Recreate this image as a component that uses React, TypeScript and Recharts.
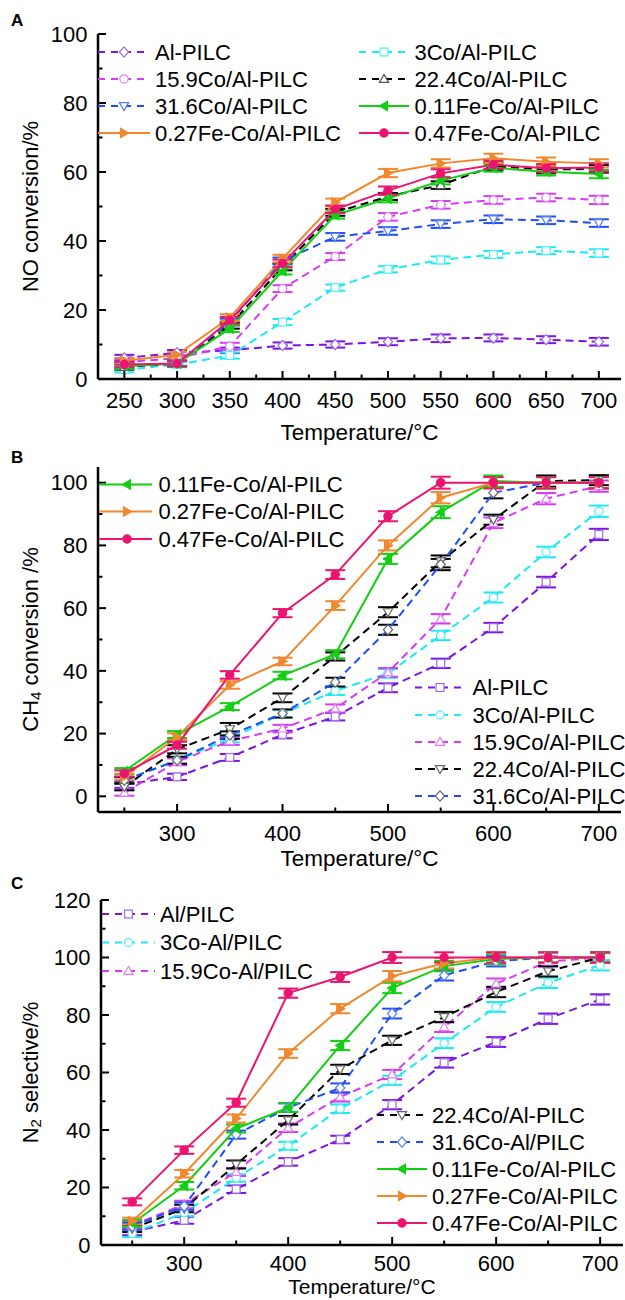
import React from 'react';
import { LineChart, Line, XAxis, YAxis, ErrorBar, Legend } from 'recharts';

const FONT = '"Liberation Sans", Arial, Helvetica, sans-serif';

// ---------- shared categories ----------
const temperatures = [250, 300, 350, 400, 450, 500, 550, 600, 650, 700];

// ---------- Panel A: NO conversion (%) ----------
const aAlPilc = [6.1, 7.6, 8.3, 9.7, 10.0, 10.8, 11.8, 11.9, 11.4, 10.8];
const a3Co = [2.7, 4.2, 6.8, 16.5, 26.5, 31.8, 34.5, 36.1, 37.2, 36.5];
const a159Co = [4.9, 6.0, 9.5, 26.2, 35.5, 47.0, 50.5, 51.9, 52.6, 51.9];
const a224Co = [3.5, 4.5, 15.5, 32.5, 48.3, 52.9, 56.2, 61.7, 60.7, 60.9];
const a316Co = [3.9, 4.5, 16.5, 34.2, 41.2, 42.9, 44.9, 46.3, 46.0, 45.2];
const a011Fe = [3.7, 4.5, 14.6, 31.3, 47.5, 52.3, 57.5, 61.2, 60.1, 59.4];
const a027Fe = [5.3, 7.0, 17.8, 34.9, 51.2, 59.7, 62.5, 64.0, 63.0, 62.5];
const a047Fe = [4.2, 4.5, 17.0, 33.5, 49.2, 54.6, 59.6, 62.1, 61.1, 61.3];
const aErrAlPilc = [0.9, 0.8, 0.8, 0.9, 0.9, 1.0, 1.1, 1.0, 1.0, 1.1];
const aErr3Co = [0.8, 0.8, 0.9, 0.9, 0.9, 0.9, 1.0, 1.0, 1.0, 1.1];
const aErr159Co = [0.8, 0.8, 1.0, 1.0, 1.0, 1.1, 1.1, 1.1, 1.1, 1.2];
const aErr224Co = [0.8, 0.8, 0.9, 1.0, 1.0, 1.0, 1.1, 1.1, 1.1, 1.1];
const aErr316Co = [0.8, 0.8, 1.0, 1.0, 1.1, 1.1, 1.1, 1.1, 1.1, 1.1];
const aErr011Fe = [0.8, 0.9, 1.0, 1.0, 1.0, 1.1, 1.1, 1.1, 1.1, 1.2];
const aErr027Fe = [0.8, 0.8, 1.0, 1.1, 1.1, 1.2, 1.2, 1.3, 1.2, 1.2];
const aErr047Fe = [0.8, 0.8, 1.0, 1.1, 1.1, 1.2, 1.2, 1.2, 1.2, 1.2];
const aXTicks = [250, 275, 300, 325, 350, 375, 400, 425, 450, 475, 500, 525, 550, 575, 600, 625, 650, 675, 700];
const aYTicks = [0, 10, 20, 30, 40, 50, 60, 70, 80, 90, 100];

// ---------- Panel B: CH4 conversion (%) ----------
const bAlPilc = [3.8, 6.2, 12.4, 19.7, 25.4, 34.6, 42.4, 53.8, 68.3, 83.5];
const b3Co = [5.1, 11.5, 18.4, 26.4, 33.6, 39.2, 51.3, 63.4, 77.9, 90.9];
const b159Co = [1.2, 11.0, 17.6, 21.6, 28.0, 39.5, 56.6, 87.2, 94.9, 98.9];
const b224Co = [3.0, 15.0, 21.4, 31.4, 44.6, 58.7, 74.9, 88.2, 100.5, 100.8];
const b316Co = [5.1, 11.5, 19.5, 26.4, 36.4, 53.1, 73.9, 96.8, 100.0, 100.0];
const b011Fe = [8.0, 19.7, 28.6, 38.5, 45.3, 75.7, 90.6, 100.5, 100.0, 100.0];
const b027Fe = [6.2, 19.0, 35.5, 43.0, 60.8, 80.0, 95.2, 100.0, 100.0, 100.0];
const b047Fe = [7.3, 16.3, 38.7, 58.4, 70.7, 89.3, 100.0, 100.0, 100.0, 100.0];
const bErrAlPilc = [1.1, 1.0, 1.1, 1.2, 1.2, 1.4, 1.5, 1.5, 1.7, 1.8];
const bErr3Co = [1.0, 1.1, 1.2, 1.2, 1.3, 1.4, 1.5, 1.6, 1.7, 1.8];
const bErr159Co = [1.0, 1.1, 1.2, 1.2, 1.3, 1.4, 1.5, 1.7, 1.8, 1.8];
const bErr224Co = [1.1, 1.3, 2.0, 1.4, 1.3, 1.6, 1.9, 1.6, 1.8, 1.6];
const bErr316Co = [1.0, 1.1, 1.2, 1.3, 1.4, 1.6, 1.8, 1.8, 1.8, 1.8];
const bErr011Fe = [1.0, 1.1, 1.1, 1.2, 1.3, 1.6, 1.9, 1.8, 1.8, 1.8];
const bErr027Fe = [1.0, 1.1, 1.2, 1.2, 1.4, 1.6, 1.8, 1.8, 1.8, 1.8];
const bErr047Fe = [1.0, 1.1, 1.2, 1.3, 1.4, 1.6, 1.9, 1.8, 1.8, 1.8];
const bXTicks = [250, 300, 350, 400, 450, 500, 550, 600, 650, 700];
const bYTicks = [0, 10, 20, 30, 40, 50, 60, 70, 80, 90, 100];

// ---------- Panel C: N2 selectivity (%) ----------
const cAlPilc = [4.6, 8.6, 19.4, 28.9, 36.7, 48.8, 63.4, 70.6, 78.7, 85.4];
const c3Co = [4.0, 11.2, 23.3, 34.5, 47.4, 57.3, 70.2, 82.8, 91.2, 97.3];
const c159Co = [6.9, 14.1, 25.4, 40.8, 51.5, 59.3, 75.8, 90.9, 98.6, 100.0];
const c224Co = [5.7, 12.7, 28.0, 43.4, 61.1, 71.2, 79.3, 88.0, 95.2, 100.0];
const c316Co = [6.5, 13.5, 38.4, 47.8, 54.6, 80.5, 93.8, 98.7, 100.0, 100.0];
const c011Fe = [7.5, 20.6, 40.5, 47.8, 69.4, 89.4, 97.0, 99.5, 100.0, 100.0];
const c027Fe = [8.3, 24.8, 44.0, 66.6, 82.2, 93.5, 98.0, 100.0, 100.0, 100.0];
const c047Fe = [15.0, 33.0, 49.5, 87.6, 93.2, 100.0, 100.0, 100.0, 100.0, 100.0];
const cErrAlPilc = [1.2, 1.2, 1.3, 1.3, 1.3, 1.6, 1.7, 1.7, 1.8, 1.8];
const cErr3Co = [1.2, 1.2, 1.3, 1.4, 1.5, 1.6, 1.7, 1.7, 1.8, 1.8];
const cErr159Co = [1.2, 1.3, 1.4, 1.5, 1.6, 1.6, 1.7, 1.8, 1.8, 1.8];
const cErr224Co = [1.2, 1.3, 1.4, 1.5, 1.6, 1.6, 1.8, 1.8, 1.8, 1.8];
const cErr316Co = [1.2, 1.3, 1.4, 1.5, 1.6, 1.7, 1.8, 1.8, 1.8, 1.8];
const cErr011Fe = [1.2, 1.3, 1.4, 1.5, 1.6, 1.8, 1.8, 1.8, 1.8, 1.8];
const cErr027Fe = [1.2, 1.3, 1.4, 1.5, 1.6, 1.8, 1.8, 1.8, 1.8, 1.8];
const cErr047Fe = [1.2, 1.3, 1.4, 1.6, 1.7, 1.9, 1.8, 1.8, 1.8, 1.8];
const cXTicks = [250, 300, 350, 400, 450, 500, 550, 600, 650, 700];
const cYTicks = [0, 10, 20, 30, 40, 50, 60, 70, 80, 90, 100, 110, 120];

// ---------- styles ----------
const PURPLE = '#7A16E4';
const CYAN = '#1BEAF0';
const MAGENTA = '#D63CF2';
const BLACK = '#000000';
const BLUE = '#1F4FF4';
const GREEN = '#12CF12';
const ORANGE = '#F0882E';
const PINK = '#EC1470';

type MarkerType = 'diamond' | 'square' | 'circle' | 'triUp' | 'triDown' | 'triLeft' | 'triRight';

interface SeriesDef {
  name: string;
  color: string;
  dashed: boolean;
  marker: MarkerType;
  markerStroke: string;
  errColor: string;
  values: number[];
  errors: number[];
}

const Marker = ({ type, cx, cy, fill, stroke }: { type: MarkerType; cx: number; cy: number; fill: string; stroke: string }) => {
  const s = 4.6;
  const common = { fill, stroke, strokeWidth: 1.2 };
  switch (type) {
    case 'diamond':
      return <polygon {...common} points={`${cx},${cy - s * 1.1} ${cx + s},${cy} ${cx},${cy + s * 1.1} ${cx - s},${cy}`} />;
    case 'square':
      return <rect {...common} x={cx - s * 0.85} y={cy - s * 0.85} width={s * 1.7} height={s * 1.7} />;
    case 'circle':
      return <circle {...common} cx={cx} cy={cy} r={s * 0.9} />;
    case 'triUp':
      return <polygon {...common} points={`${cx},${cy - s} ${cx + s},${cy + s * 0.75} ${cx - s},${cy + s * 0.75}`} />;
    case 'triDown':
      return <polygon {...common} points={`${cx},${cy + s} ${cx + s},${cy - s * 0.75} ${cx - s},${cy - s * 0.75}`} />;
    case 'triLeft':
      return <polygon {...common} points={`${cx - s},${cy} ${cx + s * 0.75},${cy - s} ${cx + s * 0.75},${cy + s}`} />;
    case 'triRight':
      return <polygon {...common} points={`${cx + s},${cy} ${cx - s * 0.75},${cy - s} ${cx - s * 0.75},${cy + s}`} />;
  }
  return null;
};

const markerFill = (s: SeriesDef) => (s.dashed ? '#ffffff' : s.color);

interface LegendGroup {
  x0: number;
  x1: number;
  mx: number;
  tx: number;
  rows: { idx: number; y: number }[];
}

interface PanelDef {
  top: number;
  height: number;
  margin: { top: number; right: number; bottom: number; left: number };
  yWidth: number;
  xHeight: number;
  xDomain: [number, number];
  yDomain: [number, number];
  xTicks: number[];
  xMajor: number;
  xLabelDy: number;
  yTicks: number[];
  yMajor: number;
  letter: string;
  letterY: number;
  xTitleY: number;
  xTitleSize: number;
  yTitle: React.ReactNode;
  series: SeriesDef[];
  legend: LegendGroup[];
}

const mk = (
  name: string, color: string, dashed: boolean, marker: MarkerType,
  markerStroke: string, errColor: string, values: number[], errors: number[]
): SeriesDef => ({ name, color, dashed, marker, markerStroke, errColor, values, errors });

const panels: PanelDef[] = [
  {
    top: 0,
    height: 445,
    margin: { top: 34, right: 4, bottom: 26, left: 0 },
    yWidth: 98,
    xHeight: 40,
    xDomain: [225, 721],
    yDomain: [0, 100],
    xTicks: aXTicks,
    xMajor: 50,
    xLabelDy: 29,
    yTicks: aYTicks,
    yMajor: 20,
    letter: 'A',
    letterY: 26,
    xTitleY: 432,
    xTitleSize: 22.5,
    yTitle: <>NO conversion/%</>,
    series: [
      mk('Al-PILC', PURPLE, true, 'diamond', '#9C6CF0', PURPLE, aAlPilc, aErrAlPilc),
      mk('3Co/Al-PILC', CYAN, true, 'square', '#55EEF4', CYAN, a3Co, aErr3Co),
      mk('15.9Co/Al-PILC', MAGENTA, true, 'circle', '#E27FF5', MAGENTA, a159Co, aErr159Co),
      mk('22.4Co/Al-PILC', BLACK, true, 'triUp', '#555555', BLACK, a224Co, aErr224Co),
      mk('31.6Co/Al-PILC', BLUE, true, 'triDown', '#5A7EF5', BLUE, a316Co, aErr316Co),
      mk('0.11Fe-Co/Al-PILC', GREEN, false, 'triLeft', GREEN, GREEN, a011Fe, aErr011Fe),
      mk('0.27Fe-Co/Al-PILC', ORANGE, false, 'triRight', ORANGE, ORANGE, a027Fe, aErr027Fe),
      mk('0.47Fe-Co/Al-PILC', PINK, false, 'circle', PINK, PINK, a047Fe, aErr047Fe),
    ],
    legend: [
      { x0: 98, x1: 150, mx: 124, tx: 155, rows: [{ idx: 0, y: 52 }, { idx: 2, y: 79 }, { idx: 4, y: 106 }, { idx: 6, y: 133 }] },
      { x0: 359, x1: 409, mx: 384, tx: 414.5, rows: [{ idx: 1, y: 52 }, { idx: 3, y: 79 }, { idx: 5, y: 106 }, { idx: 7, y: 133 }] },
    ],
  },
  {
    top: 445,
    height: 430,
    margin: { top: 22, right: 4, bottom: 23, left: 0 },
    yWidth: 98,
    xHeight: 40,
    xDomain: [225, 721],
    yDomain: [-5, 105],
    xTicks: bXTicks,
    xMajor: 100,
    xLabelDy: 29,
    yTicks: bYTicks,
    yMajor: 20,
    letter: 'B',
    letterY: 18,
    xTitleY: 413,
    xTitleSize: 22.5,
    yTitle: (
      <>
        CH<tspan fontSize={15} dy={5}>4</tspan>
        <tspan dy={-5}> conversion /%</tspan>
      </>
    ),
    series: [
      mk('Al-PILC', PURPLE, true, 'square', '#9C6CF0', PURPLE, bAlPilc, bErrAlPilc),
      mk('3Co/Al-PILC', CYAN, true, 'circle', '#55EEF4', CYAN, b3Co, bErr3Co),
      mk('15.9Co/Al-PILC', MAGENTA, true, 'triUp', '#E27FF5', MAGENTA, b159Co, bErr159Co),
      mk('22.4Co/Al-PILC', BLACK, true, 'triDown', '#666666', BLACK, b224Co, bErr224Co),
      mk('31.6Co/Al-PILC', BLUE, true, 'diamond', '#666666', BLACK, b316Co, bErr316Co),
      mk('0.11Fe-Co/Al-PILC', GREEN, false, 'triLeft', GREEN, GREEN, b011Fe, bErr011Fe),
      mk('0.27Fe-Co/Al-PILC', ORANGE, false, 'triRight', ORANGE, ORANGE, b027Fe, bErr027Fe),
      mk('0.47Fe-Co/Al-PILC', PINK, false, 'circle', PINK, PINK, b047Fe, bErr047Fe),
    ],
    legend: [
      { x0: 99, x1: 152, mx: 127, tx: 158.5, rows: [{ idx: 5, y: 39.5 }, { idx: 6, y: 66.5 }, { idx: 7, y: 94 }] },
      { x0: 415, x1: 467, mx: 440, tx: 472.5, rows: [{ idx: 0, y: 242.5 }, { idx: 1, y: 270 }, { idx: 2, y: 297 }, { idx: 3, y: 324 }, { idx: 4, y: 351 }] },
    ],
  },
  {
    top: 875,
    height: 425,
    margin: { top: 25, right: 2, bottom: 20, left: 0 },
    yWidth: 101,
    xHeight: 35,
    xDomain: [220, 722],
    yDomain: [0, 120],
    xTicks: cXTicks,
    xMajor: 100,
    xLabelDy: 26,
    yTicks: cYTicks,
    yMajor: 20,
    letter: 'C',
    letterY: 14,
    xTitleY: 411,
    xTitleSize: 21,
    yTitle: (
      <>
        N<tspan fontSize={15} dy={5}>2</tspan>
        <tspan dy={-5}> selective/%</tspan>
      </>
    ),
    series: [
      mk('Al/PILC', PURPLE, true, 'square', '#9C6CF0', PURPLE, cAlPilc, cErrAlPilc),
      mk('3Co-Al/PILC', CYAN, true, 'circle', '#55EEF4', CYAN, c3Co, cErr3Co),
      mk('15.9Co-Al/PILC', MAGENTA, true, 'triUp', '#E27FF5', MAGENTA, c159Co, cErr159Co),
      mk('22.4Co/Al-PILC', BLACK, true, 'triDown', '#666666', BLACK, c224Co, cErr224Co),
      mk('31.6Co-Al/PILC', BLUE, true, 'diamond', '#5A7EF5', BLUE, c316Co, cErr316Co),
      mk('0.11Fe-Co/Al-PILC', GREEN, false, 'triLeft', GREEN, GREEN, c011Fe, cErr011Fe),
      mk('0.27Fe-Co/Al-PILC', ORANGE, false, 'triRight', ORANGE, ORANGE, c027Fe, cErr027Fe),
      mk('0.47Fe-Co/Al-PILC', PINK, false, 'circle', PINK, PINK, c047Fe, cErr047Fe),
    ],
    legend: [
      { x0: 102, x1: 155, mx: 128.5, tx: 160, rows: [{ idx: 0, y: 39 }, { idx: 1, y: 67.5 }, { idx: 2, y: 96 }] },
      { x0: 377, x1: 427, mx: 402, tx: 432, rows: [{ idx: 3, y: 240 }, { idx: 4, y: 267 }, { idx: 5, y: 294 }, { idx: 6, y: 321 }, { idx: 7, y: 348 }] },
    ],
  },
];

const DASH = '8 5';

const XTick = (props: any) => {
  const { x, y, payload, major, dy } = props;
  const v = payload.value;
  const isMajor = v % major === 0;
  return (
    <g>
      <line x1={x} x2={x} y1={y} y2={y - (isMajor ? 8 : 4.5)} stroke="#000" strokeWidth={2} />
      {isMajor && (
        <text x={x} y={y + dy} textAnchor="middle" fontSize={22} fontFamily={FONT} fill="#000">
          {v}
        </text>
      )}
    </g>
  );
};

const YTick = (props: any) => {
  const { x, y, payload, major } = props;
  const v = payload.value;
  const isMajor = v % major === 0;
  return (
    <g>
      <line x1={x} x2={x + (isMajor ? 8 : 4.5)} y1={y} y2={y} stroke="#000" strokeWidth={2} />
      {isMajor && (
        <text x={x - 10.5} y={y + 7.8} textAnchor="end" fontSize={22} fontFamily={FONT} fill="#000">
          {v}
        </text>
      )}
    </g>
  );
};

const LegendOverlay = ({ panel }: { panel: PanelDef }) => (
  <svg width={625} height={panel.height} style={{ display: 'block', overflow: 'visible' }}>
    <text x={11} y={panel.letterY} fontSize={17} fontWeight="bold" fontFamily={FONT} fill="#000">
      {panel.letter}
    </text>
    {panel.legend.map((g, gi) =>
      g.rows.map((r) => {
        const s = panel.series[r.idx];
        return (
          <g key={`${gi}-${r.idx}`}>
            <line
              x1={g.x0}
              x2={g.x1}
              y1={r.y}
              y2={r.y}
              stroke={s.color}
              strokeWidth={2}
              strokeDasharray={s.dashed ? '7 6' : undefined}
            />
            <Marker type={s.marker} cx={g.mx} cy={r.y} fill={markerFill(s)} stroke={s.markerStroke} />
            <text x={g.tx} y={r.y + 7.8} fontSize={22} fontFamily={FONT} fill="#000">
              {s.name}
            </text>
          </g>
        );
      })
    )}
  </svg>
);

const Panel = ({ panel }: { panel: PanelDef }) => {
  const data = temperatures.map((t, i) => {
    const row: Record<string, number> = { t };
    panel.series.forEach((s, k) => {
      row[`s${k}`] = s.values[i];
      row[`e${k}`] = s.errors[i];
    });
    return row;
  });
  const plotTop = panel.margin.top;
  const plotBottom = panel.height - panel.margin.bottom - panel.xHeight;
  const plotLeft = panel.margin.left + panel.yWidth;
  const plotRight = 625 - panel.margin.right;
  const cxTitle = (plotLeft + plotRight) / 2;
  const cyTitle = (plotTop + plotBottom) / 2;

  return (
    <div style={{ position: 'absolute', left: 0, top: panel.top, width: 625, height: panel.height }}>
      <LineChart width={625} height={panel.height} data={data} margin={panel.margin}>
        <XAxis
          xAxisId="main"
          dataKey="t"
          type="number"
          domain={panel.xDomain}
          allowDataOverflow
          ticks={panel.xTicks}
          interval={0}
          height={panel.xHeight}
          tickSize={0}
          tickMargin={0}
          tickLine={false}
          axisLine={{ stroke: '#000', strokeWidth: 2.5 }}
          tick={(p: any) => <XTick {...p} major={panel.xMajor} dy={panel.xLabelDy} />}
          label={{
            content: () => (
              <text
                x={cxTitle}
                y={panel.xTitleY + 7.5}
                textAnchor="middle"
                fontSize={panel.xTitleSize}
                fontFamily={FONT}
                fill="#000"
              >
                Temperature/°C
              </text>
            ),
          }}
        />
        <XAxis
          xAxisId="top"
          orientation="top"
          type="number"
          domain={panel.xDomain}
          allowDataOverflow
          height={0}
          tick={false}
          tickLine={false}
          axisLine={{ stroke: '#000', strokeWidth: 2.5 }}
        />
        <YAxis
          yAxisId="main"
          type="number"
          domain={panel.yDomain}
          allowDataOverflow
          ticks={panel.yTicks}
          interval={0}
          width={panel.yWidth}
          tickSize={0}
          tickMargin={0}
          tickLine={false}
          axisLine={{ stroke: '#000', strokeWidth: 2.5 }}
          tick={(p: any) => <YTick {...p} major={panel.yMajor} />}
          label={{
            content: () => (
              <text
                x={30}
                y={cyTitle}
                transform={`rotate(-90 30 ${cyTitle})`}
                textAnchor="middle"
                dominantBaseline="central"
                fontSize={22}
                fontFamily={FONT}
                fill="#000"
              >
                {panel.yTitle}
              </text>
            ),
          }}
        />
        <YAxis
          yAxisId="right"
          orientation="right"
          type="number"
          domain={panel.yDomain}
          allowDataOverflow
          width={0}
          tick={false}
          tickLine={false}
          axisLine={{ stroke: '#000', strokeWidth: 2.5 }}
        />
        {panel.series.map((s, k) => (
          <Line
            key={s.name + k}
            xAxisId="main"
            yAxisId="main"
            type="linear"
            dataKey={`s${k}`}
            name={s.name}
            stroke={s.color}
            strokeWidth={2}
            strokeDasharray={s.dashed ? DASH : undefined}
            isAnimationActive={false}
            activeDot={false}
            dot={(p: any) => {
              const { cx, cy, index } = p;
              if (cx == null || cy == null) return <g key={`d${index}`} />;
              return (
                <g key={`d${index}`}>
                  <Marker type={s.marker} cx={cx} cy={cy} fill={markerFill(s)} stroke={s.markerStroke} />
                </g>
              );
            }}
          >
            <ErrorBar dataKey={`e${k}`} width={10} stroke={s.errColor} strokeWidth={2} direction="y" isAnimationActive={false} />
          </Line>
        ))}
        <Legend
          layout="vertical"
          align="center"
          verticalAlign="middle"
          wrapperStyle={{ position: 'absolute', left: 0, top: 0, width: 625, height: panel.height, pointerEvents: 'none' }}
          content={() => <LegendOverlay panel={panel} />}
        />
      </LineChart>
    </div>
  );
};

export default function App() {
  return (
    <div style={{ position: 'absolute', left: 0, top: 0, width: 625, height: 1300, background: '#fff' }}>
      {panels.map((p) => (
        <Panel key={p.letter} panel={p} />
      ))}
    </div>
  );
}
